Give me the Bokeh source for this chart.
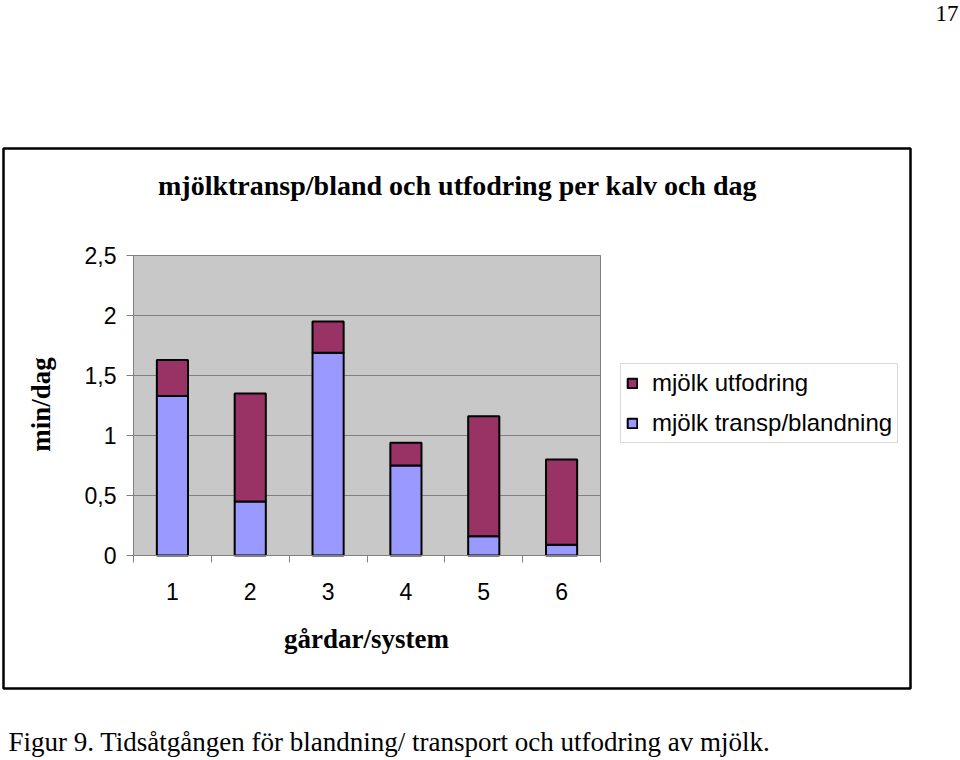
import math
from bokeh.plotting import figure
from bokeh.models import (ColumnDataSource, Range1d, FixedTicker, Label, Legend,
                          LegendItem, BoxAnnotation)
from bokeh.embed import file_html
from bokeh.resources import INLINE

# ---- data -------------------------------------------------------------
systems = ["1", "2", "3", "4", "5", "6"]
transp_blandning = [1.33, 0.45, 1.69, 0.75, 0.16, 0.09]
utfodring = [0.30, 0.90, 0.26, 0.19, 1.00, 0.71]
y_ticks = [0, 0.5, 1, 1.5, 2, 2.5]
y_tick_labels = ["0", "0,5", "1", "1,5", "2", "2,5"]

title_text = "mjölktransp/bland och utfodring per kalv och dag"
y_label_text = "min/dag"
x_label_text = "gårdar/system"
legend_labels = ["mjölk utfodring", "mjölk transp/blandning"]
caption_text = "Figur 9. Tidsåtgången för blandning/ transport och utfodring av mjölk."
page_number = "17"

# ---- layout / styles ---------------------------------------------------
W, H = 960, 760
PX_L, PX_R, PX_T, PX_B = 133, 600, 255, 555   # plot area in page pixels
BLUE = "#9999ff"
RED = "#993366"
PLOT_BG = "#c8c8c8"
GRID = "#808080"
SANS = "Liberation Sans"
SERIF = "Liberation Serif"
BASE_FIX = 8   # renderer places the alphabetic baseline a little low

xs = [i + 1 for i in range(len(systems))]
x_lo, x_hi = xs[0] - 0.5, xs[-1] + 0.5
y_lo, y_hi = y_ticks[0], y_ticks[-1]

# ranges so that the plot area lands on PX_* while the frame covers the page
kx = (x_hi - x_lo) / (PX_R - PX_L)
ky = (y_hi - y_lo) / (PX_B - PX_T)
x_range = Range1d(x_lo - PX_L * kx, x_hi + (W - PX_R) * kx)
y_range = Range1d(y_lo - (H - PX_B) * ky, y_hi + PX_T * ky)


def sy(img_y):
    """page pixel row -> screen units (from bottom of frame)"""
    return H - img_y


source = ColumnDataSource(dict(x=xs, transp=transp_blandning, utf=utfodring))

p = figure(width=W, height=H, x_range=x_range, y_range=y_range,
           output_backend="svg", toolbar_location=None, min_border=0)
p.title.visible = False
p.outline_line_color = None
p.background_fill_color = "white"
p.border_fill_color = "white"
p.xgrid.visible = False
p.ygrid.visible = False

# plot area background
p.add_layout(BoxAnnotation(left=x_lo, right=x_hi, bottom=y_lo, top=y_hi,
                           fill_color=PLOT_BG, fill_alpha=1,
                           line_color=GRID, line_alpha=1, line_width=1,
                           level="underlay"))
# horizontal grid lines
n = len(y_ticks) - 1
p.segment(x0=[x_lo] * n, x1=[x_hi] * n, y0=y_ticks[1:], y1=y_ticks[1:],
          line_color=GRID, line_width=1)

renderers = p.vbar_stack(["transp", "utf"], x="x", width=0.4, source=source,
                         fill_color=[BLUE, RED], line_color="black", line_width=2)

# x axis
xa = p.xaxis[0]
xa.fixed_location = y_lo
xa.bounds = (x_lo, x_hi)
xa.ticker = FixedTicker(ticks=xs, minor_ticks=[x - 0.5 for x in xs] + [x_hi])
xa.major_label_overrides = {x: s for x, s in zip(xs, systems)}
xa.major_tick_line_color = None
xa.major_tick_out = 0
xa.major_tick_in = 0
xa.minor_tick_line_color = GRID
xa.minor_tick_out = 7
xa.minor_tick_in = 0
xa.axis_line_color = GRID
xa.major_label_standoff = 20
xa.major_label_text_font = SANS
xa.major_label_text_font_size = "23px"
xa.major_label_text_color = "black"

# y axis
ya = p.yaxis[0]
ya.fixed_location = x_lo
ya.bounds = (y_lo, y_hi)
ya.ticker = FixedTicker(ticks=y_ticks)
ya.major_label_overrides = {t: s for t, s in zip(y_ticks, y_tick_labels)}
ya.minor_tick_line_color = None
ya.major_tick_line_color = GRID
ya.major_tick_out = 7
ya.major_tick_in = 0
ya.axis_line_color = GRID
ya.major_label_standoff = 10
ya.major_label_text_font = SANS
ya.major_label_text_font_size = "23px"
ya.major_label_text_color = "black"

# legend
legend = Legend(items=[LegendItem(label=legend_labels[0], renderers=[renderers[1]]),
                       LegendItem(label=legend_labels[1], renderers=[renderers[0]])],
                location=(620, sy(443)), orientation="vertical",
                glyph_width=12, glyph_height=12, label_height=24,
                label_standoff=14, spacing=12, padding=5, margin=0,
                label_text_font=SANS, label_text_font_size="24px",
                label_text_color="black",
                border_line_color="#b8b8b8", border_line_width=1,
                background_fill_color="white", background_fill_alpha=1)
p.add_layout(legend, "center")

# chart border box
p.add_layout(BoxAnnotation(left=3, right=910, top=sy(148), bottom=sy(688),
                           left_units="screen", right_units="screen",
                           top_units="screen", bottom_units="screen",
                           fill_alpha=0, line_color="black", line_alpha=1,
                           line_width=2.5))

# texts
p.add_layout(Label(x=457, y=sy(193) + BASE_FIX, x_units="screen", y_units="screen",
                   text=title_text, text_align="center", text_baseline="alphabetic",
                   text_font=SERIF, text_font_style="bold", text_font_size="28px",
                   text_color="black"))
p.add_layout(Label(x=49 - BASE_FIX - 1, y=sy(404), x_units="screen", y_units="screen",
                   text=y_label_text, angle=math.pi / 2,
                   text_align="center", text_baseline="alphabetic",
                   text_font=SERIF, text_font_style="bold", text_font_size="27px",
                   text_color="black"))
p.add_layout(Label(x=366, y=sy(646) + BASE_FIX, x_units="screen", y_units="screen",
                   text=x_label_text, text_align="center", text_baseline="alphabetic",
                   text_font=SERIF, text_font_style="bold", text_font_size="27px",
                   text_color="black"))
p.add_layout(Label(x=958, y=sy(20) + BASE_FIX - 1, x_units="screen", y_units="screen",
                   text=page_number, text_align="right", text_baseline="alphabetic",
                   text_font=SERIF, text_font_size="23px", text_color="black"))
p.add_layout(Label(x=8, y=sy(749) + BASE_FIX, x_units="screen", y_units="screen",
                   text=caption_text, text_align="left", text_baseline="alphabetic",
                   text_font=SERIF, text_font_size="27px", text_color="black"))

open("out.html", "w").write(file_html(p, INLINE))
